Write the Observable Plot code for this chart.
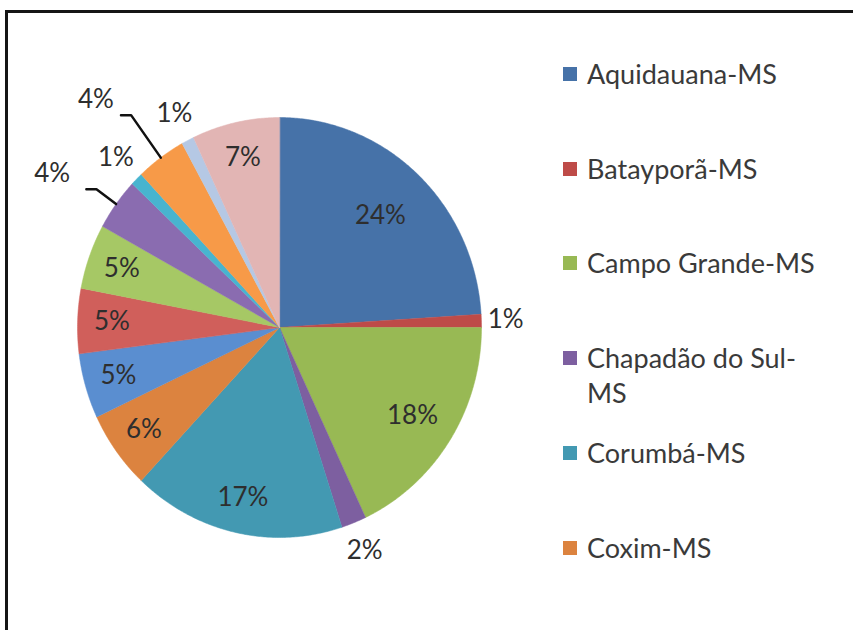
<!DOCTYPE html>
<html>
<head>
<meta charset="utf-8">
<script src="https://cdn.jsdelivr.net/npm/d3@7"></script>
<script src="https://cdn.jsdelivr.net/npm/@observablehq/plot@0.6"></script>
<style>
  html, body { margin: 0; padding: 0; background: #fff; }
  #wrap { position: relative; width: 853px; height: 630px; overflow: hidden; background: #fff; font-family: Lato, "Open Sans", sans-serif; }
  #frame { position: absolute; left: 5px; top: 10px; width: 860px; height: 640px; border-top: 3px solid #151515; border-left: 3px solid #151515; box-sizing: border-box; }
  #chart { position: absolute; left: 0; top: 0; }
  .lg { position: absolute; left: 563px; font-size: 27px; color: #3a3a3a; line-height: 35px; white-space: pre; }
  .lg .sw { position: absolute; left: 0; top: 11px; width: 14px; height: 14px; }
  .lg .tx { position: absolute; left: 24px; top: 0; }
</style>
</head>
<body>
<div id="wrap"><div id="frame"></div><div id="chart"></div></div>
<script>
// ---- data ----
const categories = [
  "Aquidauana-MS", "Bataypor\u00e3-MS", "Campo Grande-MS", "Chapad\u00e3o do Sul-MS",
  "Corumb\u00e1-MS", "Coxim-MS", "S\u00e9rie 7", "S\u00e9rie 8", "S\u00e9rie 9",
  "S\u00e9rie 10", "S\u00e9rie 11", "S\u00e9rie 12", "S\u00e9rie 13", "S\u00e9rie 14"
];
const values = [24, 1, 18, 2, 17, 6, 5, 5, 5, 4, 1, 4, 1, 7];
const labels = ["24%", "1%", "18%", "2%", "17%", "6%", "5%", "5%", "5%", "4%", "1%", "4%", "1%", "7%"];
const colors = [
  "#4672a8", "#be4b48", "#98b954", "#7d5fa0", "#4399b2", "#dc833f", "#5a8ed0",
  "#d05f5b", "#a6c865", "#8a6cb0", "#48b4cf", "#f79a48", "#b5c8e4", "#e2b5b4"
];
const legendShown = 6;

// ---- layout helpers (style, not data) ----
const labelRadius = {0: 0.73, 2: 0.78, 1: 1.12}; // inside labels default 0.83
const leaderIdx = [9, 11];
const leaderElbow = {9: 1.12, 11: 1.25};
const leaderLabelShift = {9: 0.13, 11: 0.085};

const total = d3.sum(values);
let acc = 0;
const slices = values.map((v, i) => {
  const a0 = acc / total * 2 * Math.PI;
  acc += v;
  const a1 = acc / total * 2 * Math.PI;
  return {i, name: categories[i], value: v, a0, a1, mid: (a0 + a1) / 2};
});
const pt = (a, r) => [r * Math.sin(a), r * Math.cos(a)];

const poly = [];
for (const s of slices) {
  poly.push({name: s.name, x: 0, y: 0});
  const n = Math.max(2, Math.ceil((s.a1 - s.a0) / (Math.PI / 360)));
  for (let k = 0; k <= n; k++) {
    const a = s.a0 + (s.a1 - s.a0) * k / n;
    const [x, y] = pt(a, 1);
    poly.push({name: s.name, x, y});
  }
}

const labelData = slices.map(s => {
  const share = s.value / total;
  let x, y, anchor = "middle";
  if (leaderIdx.includes(s.i)) {
    const [kx, ky] = pt(s.mid, leaderElbow[s.i]);
    x = kx - leaderLabelShift[s.i]; y = ky + 0.075; anchor = "end";
  } else if (share < 0.03) {
    [x, y] = pt(s.mid, labelRadius[s.i] ?? 1.145);
  } else {
    [x, y] = pt(s.mid, labelRadius[s.i] ?? 0.83);
  }
  return {x, y, text: labels[s.i], anchor};
});

const leaders = [];
for (const i of leaderIdx) {
  const s = slices[i];
  const [ex, ey] = pt(s.mid, 1.0);
  const [kx, ky] = pt(s.mid, leaderElbow[i]);
  leaders.push({g: i, x: ex, y: ey}, {g: i, x: kx, y: ky}, {g: i, x: kx - 0.05, y: ky});
}

const chart = Plot.plot({
  width: 853,
  height: 630,
  margin: 0,
  x: {domain: [-1, 1], range: [77, 481], axis: null},
  y: {domain: [-1, 1], range: [537, 117], axis: null},
  color: {domain: categories, range: colors},
  marks: [
    Plot.line(poly, {x: "x", y: "y", z: "name", fill: "name", stroke: "name", strokeWidth: 0.5, curve: "linear-closed"}),
    Plot.line(leaders, {x: "x", y: "y", z: "g", stroke: "#111", strokeWidth: 2.5}),
    Plot.text(labelData.filter(d => d.anchor === "middle"), {x: "x", y: "y", text: "text", fontSize: 26, fill: "#2e2e2e", textAnchor: "middle", fontFamily: "Lato"}),
    Plot.text(labelData.filter(d => d.anchor === "end"), {x: "x", y: "y", text: "text", fontSize: 26, fill: "#2e2e2e", textAnchor: "end", fontFamily: "Lato"})
  ]
});
document.getElementById("chart").appendChild(chart);

// ---- legend (first entries visible in the cropped chart) ----
const wrap = document.getElementById("wrap");
const rowCenters = [73, 168, 262, 357, 452, 547];
for (let i = 0; i < legendShown; i++) {
  const div = document.createElement("div");
  div.className = "lg";
  div.style.top = (rowCenters[i] - 17.5) + "px";
  const sw = document.createElement("div");
  sw.className = "sw";
  sw.style.background = colors[i];
  const tx = document.createElement("div");
  tx.className = "tx";
  tx.textContent = categories[i].replace("Sul-", "Sul-\n");
  div.appendChild(sw);
  div.appendChild(tx);
  wrap.appendChild(div);
}
</script>
</body>
</html>
